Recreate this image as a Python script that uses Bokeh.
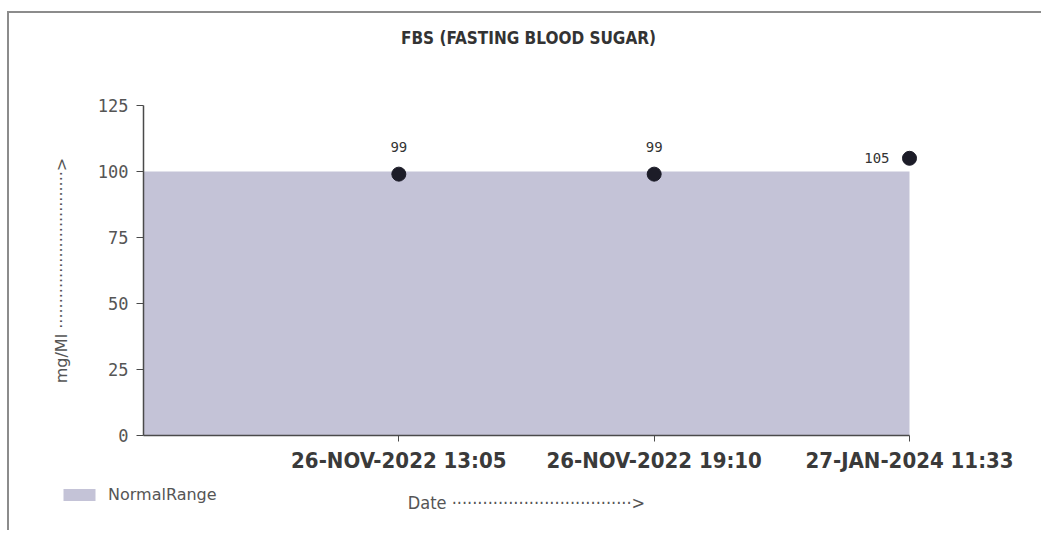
from bokeh.plotting import figure
from bokeh.models import (Range1d, FixedTicker, Legend, LegendItem, ColumnDataSource, Label)
from bokeh.core.properties import value
from bokeh.embed import file_html
from bokeh.resources import INLINE

# ---- data ----
dates = ["26-NOV-2022 13:05", "26-NOV-2022 19:10", "27-JAN-2024 11:33"]
fbs_values = [99, 99, 105]
normal_low = 0
normal_high = 100
y_ticks = [0, 25, 50, 75, 100, 125]
title_text = "FBS (FASTING BLOOD SUGAR)"
legend_text = "NormalRange"
x_axis_title = "Date " + "\u00b7" * 35 + ">"
y_axis_title = "mg/Ml " + "\u00b7" * 31 + ">"

xs = list(range(1, len(dates) + 1))

# ---- layout: the frame covers the whole canvas, axes drawn at fixed locations ----
W, H = 1034, 519
px_x = 766 / 3.0      # pixels per category step
px_y = 2.64           # pixels per mg unit
left_pad, bottom_pad = 134, 97   # pixel offset of the axes origin inside the canvas
x0 = -left_pad / px_x
x1 = (W - left_pad) / px_x
y0 = -bottom_pad / px_y
y1 = (H - bottom_pad) / px_y

p = figure(width=W, height=H, output_backend="svg", toolbar_location=None, title=None,
           x_range=Range1d(x0, x1), y_range=Range1d(y0, y1),
           min_border=0, min_border_left=0, min_border_right=0,
           min_border_top=0, min_border_bottom=0)
p.outline_line_color = None
p.xgrid.visible = False
p.ygrid.visible = False
p.background_fill_color = "white"
p.border_fill_color = "white"

# normal range band
band = p.varea(x=[0, len(dates)], y1=[normal_low, normal_low], y2=[normal_high, normal_high],
               fill_color="#c4c3d7", fill_alpha=1.0)

# points
src = ColumnDataSource(dict(x=xs, y=fbs_values))
p.scatter("x", "y", source=src, size=14, color="#1c1c28")

# value labels: first ones above point, last one left of point
src_a = ColumnDataSource(dict(x=xs[:-1], y=fbs_values[:-1], t=[str(v) for v in fbs_values[:-1]]))
src_b = ColumnDataSource(dict(x=xs[-1:], y=fbs_values[-1:], t=[str(v) for v in fbs_values[-1:]]))
p.text("x", "y", text="t", source=src_a, text_align="center", text_baseline="middle",
       y_offset=-27, text_font=value("DejaVu Sans Mono"), text_font_size="14px", text_color="#333333")
p.text("x", "y", text="t", source=src_b, text_align="right", text_baseline="middle",
       x_offset=-20, text_font=value("DejaVu Sans Mono"), text_font_size="14px", text_color="#333333")

# x axis
xa = p.xaxis[0]
xa.fixed_location = 0
xa.ticker = FixedTicker(ticks=xs)
xa.major_label_overrides = {x: d for x, d in zip(xs, dates)}
xa.bounds = (0, len(dates))
xa.minor_tick_line_color = None
xa.major_tick_in = 0
xa.major_tick_out = 6
xa.axis_line_color = "#4a4a4a"
xa.axis_line_width = 1.5
xa.major_tick_line_color = "#4a4a4a"
xa.major_label_text_font = "DejaVu Sans Condensed"
xa.major_label_text_font_style = "bold"
xa.major_label_text_font_size = "22px"
xa.major_label_text_color = "#3a3a3a"
xa.major_label_standoff = 6
xa.axis_label = x_axis_title
xa.axis_label_text_font = "DejaVu Sans Condensed"
xa.axis_label_text_font_style = "normal"
xa.axis_label_text_font_size = "18px"
xa.axis_label_text_color = "#555555"
xa.axis_label_standoff = 16

# y axis
ya = p.yaxis[0]
ya.fixed_location = 0
ya.ticker = FixedTicker(ticks=y_ticks)
ya.bounds = (y_ticks[0], y_ticks[-1])
ya.minor_tick_line_color = None
ya.major_tick_in = 0
ya.major_tick_out = 7
ya.axis_line_color = "#4a4a4a"
ya.axis_line_width = 1.5
ya.major_tick_line_color = "#4a4a4a"
ya.major_label_text_font = "DejaVu Sans Mono"
ya.major_label_text_font_size = "17px"
ya.major_label_text_color = "#555555"
ya.major_label_standoff = 8
ya.axis_label = y_axis_title
ya.axis_label_text_font = "DejaVu Sans"
ya.axis_label_text_font_style = "normal"
ya.axis_label_text_font_size = "16px"
ya.axis_label_text_color = "#555555"
ya.axis_label_standoff = 24

# title
p.add_layout(Label(x=(528 - 143) / px_x, y=(435 - 37) / px_y, text=title_text,
                   text_align="center", text_baseline="middle",
                   text_font="DejaVu Sans Condensed", text_font_style="bold",
                   text_font_size="17px", text_color="#333333"))

# legend
legend = Legend(items=[LegendItem(label=legend_text, renderers=[band])],
                location=(50, 28), orientation="horizontal",
                glyph_width=40, glyph_height=15, label_text_font="DejaVu Sans",
                label_text_font_size="16px", label_text_color="#555555",
                padding=0, margin=0, border_line_alpha=0, background_fill_alpha=0,
                label_standoff=9)
p.add_layout(legend, "center")

p.styles = {"border-top": "2px solid #8c8c8c", "border-left": "2px solid #8c8c8c",
            "margin-left": "7px", "margin-top": "11px"}

open("out.html", "w").write(file_html(p, INLINE))
